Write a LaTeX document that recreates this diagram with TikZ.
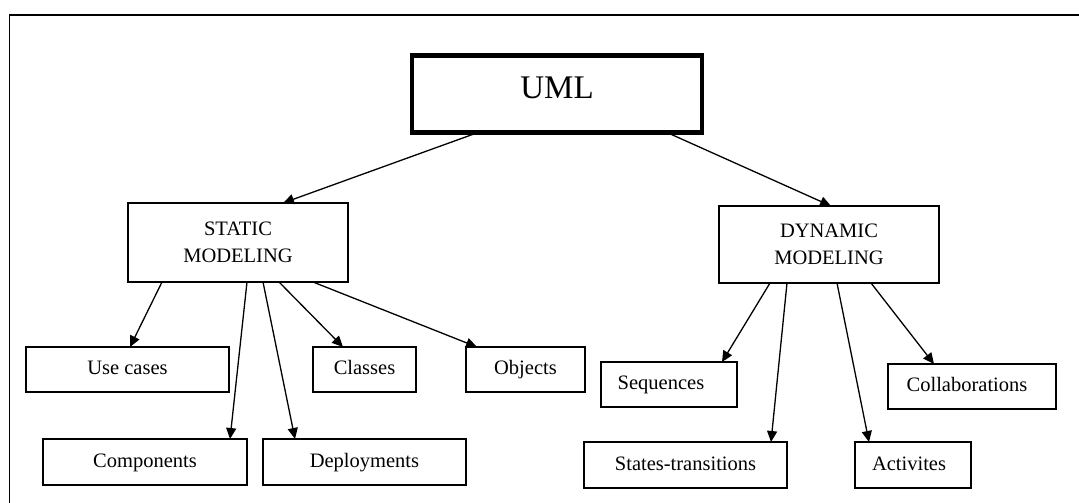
\documentclass[tikz,border=0pt]{standalone}
\usepackage{fontspec}
\setmainfont{Liberation Serif}
\usetikzlibrary{arrows.meta}
\begin{document}
\begin{tikzpicture}[x=1pt,y=-1pt,
  box/.style={draw, line width=1.3pt, inner sep=0pt, outer sep=0pt, align=center,
    font=\fontsize{20.5}{27}\selectfont},
  leaf/.style={box, text height=14pt, text depth=4pt},
  bigbox/.style={draw, line width=4.5pt, inner sep=0pt, outer sep=0pt,
    font=\fontsize{33}{36}\selectfont},
  arr/.style={line width=1.3pt, -{Triangle[length=11pt,width=10pt]}}]
\useasboundingbox (0,0) rectangle (1079,503);
\clip (0,0) rectangle (1079,503);
% outer frame (cut by the picture's edge)
\draw[line width=1.3pt] (9.5,15) rectangle (1100,530);
% nodes
\node[bigbox, minimum width=290pt, minimum height=77pt] (uml) at (557,94) {\raisebox{-4pt}[0pt][0pt]{UML}};
\node[box, minimum width=220pt, minimum height=79pt] (static) at (238,242.5) {STATIC\\MODELING};
\node[box, minimum width=220pt, minimum height=77pt] (dynamic) at (829,244.5) {DYNAMIC\\MODELING};
\node[leaf, minimum width=203pt, minimum height=45pt] (uc) at (127.5,369.5) {Use cases};
\node[leaf, minimum width=103pt, minimum height=45pt] (cl) at (364.5,369.5) {Classes};
\node[leaf, minimum width=119pt, minimum height=45pt] (ob) at (525.5,369.5) {Objects};
\node[leaf, minimum width=204pt, minimum height=46pt] (co) at (145,462) {Components};
\node[leaf, minimum width=203pt, minimum height=46pt] (de) at (364.5,462) {Deployments};
\node[leaf, minimum width=136pt, minimum height=45pt] (se) at (669,384.5) {\hspace*{-16pt}Sequences};
\node[leaf, minimum width=168pt, minimum height=45pt] (cb) at (972,386.5) {\hspace*{-10pt}Collaborations};
\node[leaf, minimum width=203pt, minimum height=46pt] (st) at (685.5,465) {States-transitions};
\node[leaf, minimum width=116pt, minimum height=46pt] (ac) at (913,465) {\hspace*{-8pt}Activites};
% connectors
\draw[arr] ([xshift=-79pt]uml.south) -- ([xshift=45pt]static.north);
\draw[arr] ([xshift=110pt]uml.south) -- ([xshift=2pt]dynamic.north);
\draw[arr] ([xshift=-76pt]static.south) -- ([xshift=2.5pt]uc.north);
\draw[arr] ([xshift=9pt]static.south) -- ([xshift=85pt]co.north);
\draw[arr] ([xshift=25pt]static.south) -- ([xshift=-69.5pt]de.north);
\draw[arr] ([xshift=41pt]static.south) -- ([xshift=-21.5pt]cl.north);
\draw[arr] ([xshift=75pt]static.south) -- ([xshift=-48.5pt]ob.north);
\draw[arr] ([xshift=-59pt]dynamic.south) -- ([xshift=53pt]se.north);
\draw[arr] ([xshift=-42pt]dynamic.south) -- ([xshift=85.5pt]st.north);
\draw[arr] ([xshift=8pt]dynamic.south) -- ([xshift=-44pt]ac.north);
\draw[arr] ([xshift=42pt]dynamic.south) -- ([xshift=-38pt]cb.north);
\end{tikzpicture}
\end{document}
